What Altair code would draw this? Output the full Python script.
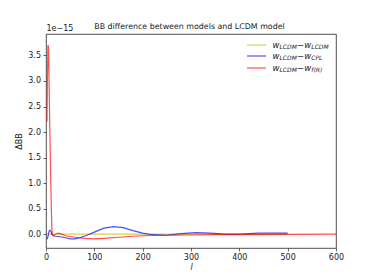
import altair as alt
import pandas as pd

# values in units of 1e-15
l_yellow = [2, 100, 200, 300, 400, 500]
v_yellow = [0, 0, 0, 0, 0, 0]

l_blue = [2, 4, 6, 8, 10, 12, 15, 20, 30, 40, 50, 60, 70, 85, 100, 120, 140, 160,
          180, 200, 220, 250, 280, 310, 340, 370, 400, 440, 480, 500]
v_blue = [-0.10, -0.05, 0.05, 0.08, 0.06, 0.0, -0.03, -0.04, -0.05, -0.07, -0.09, -0.09,
          -0.07, -0.02, 0.04, 0.12, 0.15, 0.13, 0.07, 0.02, -0.01, -0.02, 0.01, 0.03,
          0.02, 0.0, 0.0, 0.02, 0.02, 0.02]

l_red = [2, 3, 4, 5, 6, 7, 8, 9, 10, 11, 12, 13, 15, 20, 25, 30, 40, 60, 80, 100, 120,
         150, 180, 200, 250, 300, 350, 400, 450, 500, 600]
v_red = [2.2, 3.1, 3.7, 3.68, 3.2, 2.6, 2.0, 1.5, 1.0, 0.5, 0.15, 0.0, -0.03, 0.0, 0.02,
         0.01, -0.03, -0.06, -0.08, -0.09, -0.08, -0.06, -0.04, -0.03, -0.02, -0.015,
         -0.01, -0.01, -0.01, -0.005, 0.0]

series = ["LCDM-LCDM", "LCDM-CPL", "LCDM-fR"]
colors = ["#bfbf00", "#0000ff", "#ff0000"]
sub_labels = [("LCDM", "LCDM"), ("LCDM", "CPL"), ("LCDM", "f(R)")]
title_text = "BB difference between models and LCDM model"

df = pd.concat([
    pd.DataFrame({"l": l_yellow, "v": v_yellow, "s": series[0]}),
    pd.DataFrame({"l": l_blue, "v": v_blue, "s": series[1]}),
    pd.DataFrame({"l": l_red, "v": v_red, "s": series[2]}),
])
one = pd.DataFrame({"k": [0]})

FONT = "DejaVu Sans"
INK = "#222222"

lines = alt.Chart(df).mark_line(strokeWidth=1.2, opacity=0.7).encode(
    x=alt.X("l:Q", scale=alt.Scale(domain=[0, 600], nice=False, zero=False),
            axis=alt.Axis(values=[0, 100, 200, 300, 400, 500, 600], title="l",
                          titleFontStyle="italic", titleFontWeight="normal",
                          titlePadding=1.5, labelFlush=False, grid=False, domain=False,
                          labelPadding=2.5)),
    y=alt.Y("v:Q", scale=alt.Scale(domain=[-0.27, 3.92], nice=False, zero=False),
            axis=alt.Axis(values=[0, 0.5, 1, 1.5, 2, 2.5, 3, 3.5], format=".1f",
                          title="ΔBB", titleFontWeight="normal", titlePadding=4,
                          labelFlush=False, grid=False, domain=False, labelPadding=2.5)),
    color=alt.Color("s:N", scale=alt.Scale(domain=series, range=colors), legend=None),
    detail="s:N",
)

def txt(x, y, s, size=8.5, style="normal", align="left", baseline="middle"):
    return alt.Chart(one).mark_text(align=align, baseline=baseline, fontSize=size,
                                    fontStyle=style, font=FONT, color=INK).encode(
        x=alt.value(x), y=alt.value(y), text=alt.value(s))

title = txt(143.5, -5, title_text, 7.9, align="center", baseline="alphabetic")
offset = txt(0.5, -3, "1e\u221215", 8, baseline="alphabetic")

# manual legend
leg_rows = [11, 22, 34]
legend_layers = []
for i, (a, b) in enumerate(sub_labels):
    y = leg_rows[i]
    legend_layers.append(alt.Chart(one).mark_rule(color=colors[i], opacity=0.7, strokeWidth=1.2).encode(
        x=alt.value(201), x2=alt.value(220), y=alt.value(y)))
    legend_layers.append(txt(226.5, y, "w", 8.5, "italic"))
    legend_layers.append(txt(233.5, y + 2, a, 6, "italic"))
    legend_layers.append(txt(251, y, "\u2212", 8.5))
    legend_layers.append(txt(258.2, y, "w", 8.5, "italic"))
    legend_layers.append(txt(265.3, y + 2, b, 6, "italic"))

chart = alt.layer(lines, title, offset, *legend_layers).properties(
    width=290, height=214,
    padding={"left": 38, "top": 26, "right": 30, "bottom": 24},
    autosize=alt.AutoSizeParams(type="none"),
    background="white",
).configure_view(stroke=INK, strokeWidth=0.8).configure_axis(
    tickColor=INK, tickSize=3, tickWidth=0.7,
    labelFont=FONT, labelFontSize=8, labelColor=INK,
    titleFont=FONT, titleFontSize=8, titleColor=INK,
)

chart.save("out.html", embed_options={"renderer": "svg", "actions": False})
